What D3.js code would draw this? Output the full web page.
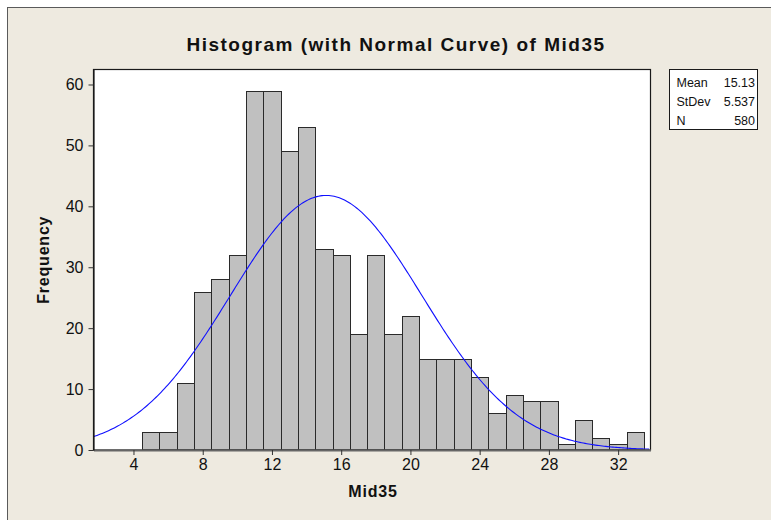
<!DOCTYPE html>
<html>
<head>
<meta charset="utf-8">
<script src="https://cdn.jsdelivr.net/npm/d3@7"></script>
<style>
  html, body { margin: 0; padding: 0; background: #ffffff; }
  svg { display: block; }
  text { font-family: "Liberation Sans", Arial, sans-serif; fill: #111; }
</style>
</head>
<body>
<svg id="chart" width="771" height="520"></svg>
<script>
// ---- data ----
const binCenters = [5, 6, 7, 8, 9, 10, 11, 12, 13, 14, 15, 16, 17, 18, 19, 20, 21, 22, 23, 24, 25, 26, 27, 28, 29, 30, 31, 32, 33];
const counts     = [3, 3, 11, 26, 28, 32, 59, 59, 49, 53, 33, 32, 19, 32, 19, 22, 15, 15, 15, 12, 6, 9, 8, 8, 1, 5, 2, 1, 3];
const xTickValues = [4, 8, 12, 16, 20, 24, 28, 32];
const yTickValues = [0, 10, 20, 30, 40, 50, 60];
const statLabels = ["Mean", "StDev", "N"];
const statValues = ["15.13", "5.537", "580"];
const meanValue = 15.13, sdValue = 5.537, nValue = 580, binWidth = 1;
const titleText = "Histogram (with Normal Curve) of Mid35";
const xLabel = "Mid35", yLabel = "Frequency";

// ---- layout ----
const W = 771, H = 520;
const plot = { left: 93.5, right: 650.5, top: 69.5, bottom: 450 };
const svg = d3.select("#chart");

// outer frame
svg.append("rect").attr("x", 7.5).attr("y", 7.5).attr("width", W).attr("height", H)
  .attr("fill", "#EEEAE0").attr("stroke", "#5a5a5a").attr("stroke-width", 1);

const x = d3.scaleLinear().domain([1.69, 33.87]).range([plot.left, plot.right]);
const y = d3.scaleLinear().domain([0, 62.46]).range([plot.bottom, plot.top]);

// plot background
svg.append("rect").attr("x", plot.left).attr("y", plot.top)
  .attr("width", plot.right - plot.left).attr("height", plot.bottom - plot.top)
  .attr("fill", "#ffffff");

svg.append("clipPath").attr("id", "pclip").append("rect")
  .attr("x", plot.left).attr("y", plot.top)
  .attr("width", plot.right - plot.left).attr("height", plot.bottom - plot.top);

// bars
svg.append("g").selectAll("rect").data(binCenters).join("rect")
  .attr("x", (d) => Math.round(x(d - binWidth / 2)) + 0.5)
  .attr("width", (d) => Math.round(x(d + binWidth / 2)) - Math.round(x(d - binWidth / 2)))
  .attr("y", (d, i) => Math.round(y(counts[i])) + 0.5)
  .attr("height", (d, i) => plot.bottom - Math.round(y(counts[i])) - 0.5)
  .attr("fill", "#C0C0C0").attr("stroke", "#2a2a2a").attr("stroke-width", 1);

// normal curve from the fitted mean / stdev / N
const scaleFactor = nValue * binWidth / (sdValue * Math.sqrt(2 * Math.PI));
const xs = d3.range(x.domain()[0], x.domain()[1] + 0.001, 0.1);
const line = d3.line()
  .x((d) => x(d))
  .y((d) => y(scaleFactor * Math.exp(-0.5 * Math.pow((d - meanValue) / sdValue, 2))));
svg.append("path").datum(xs).attr("d", line)
  .attr("clip-path", "url(#pclip)")
  .attr("fill", "none").attr("stroke", "#1010FF").attr("stroke-width", 1.1);

// plot border
svg.append("rect").attr("x", plot.left).attr("y", plot.top)
  .attr("width", plot.right - plot.left).attr("height", plot.bottom - plot.top)
  .attr("fill", "none").attr("stroke", "#1a1a1a").attr("stroke-width", 1.2);

// axes
const xAxis = d3.axisBottom(x).tickValues(xTickValues).tickSizeInner(5).tickSizeOuter(0).tickPadding(4);
const gx = svg.append("g").attr("transform", `translate(0,${plot.bottom})`).call(xAxis);
gx.select(".domain").attr("stroke", "#666").attr("stroke-width", 2);
gx.selectAll(".tick line").attr("stroke", "#333");
gx.selectAll(".tick text").style("font-size", "16px").style("font-family", "'Liberation Sans', Arial, sans-serif").attr("fill", "#111");

const yAxis = d3.axisLeft(y).tickValues(yTickValues).tickSizeInner(5).tickSizeOuter(0).tickPadding(5);
const gy = svg.append("g").attr("transform", `translate(${plot.left},0)`).call(yAxis);
gy.select(".domain").attr("stroke", "#1a1a1a").attr("stroke-width", 1.2);
gy.selectAll(".tick line").attr("stroke", "#333");
gy.selectAll(".tick text").style("font-size", "16px").style("font-family", "'Liberation Sans', Arial, sans-serif").attr("fill", "#111");

// title
svg.append("text").attr("x", 396).attr("y", 51).attr("text-anchor", "middle")
  .style("font-size", "19px").style("font-weight", "bold").style("letter-spacing", "1.5px")
  .text(titleText);

// axis labels
svg.append("text").attr("x", (plot.left + plot.right) / 2 + 1).attr("y", 497).attr("text-anchor", "middle")
  .style("font-size", "16px").style("font-weight", "bold").style("letter-spacing", "0.8px").text(xLabel);
svg.append("text").attr("transform", `translate(49,${(plot.top + plot.bottom) / 2}) rotate(-90)`)
  .attr("text-anchor", "middle")
  .style("font-size", "16px").style("font-weight", "bold").style("letter-spacing", "0.8px").text(yLabel);

// stats box
const box = { x: 669.5, y: 69.5, w: 88, h: 60 };
svg.append("rect").attr("x", box.x).attr("y", box.y).attr("width", box.w).attr("height", box.h)
  .attr("fill", "#ffffff").attr("stroke", "#1a1a1a").attr("stroke-width", 1);
const rows = svg.append("g").selectAll("g").data(statLabels).join("g");
rows.append("text").attr("x", box.x + 7).attr("y", (d, i) => 86.5 + i * 19.3)
  .style("font-size", "12.5px").text((d) => d);
rows.append("text").attr("x", box.x + box.w - 2.5).attr("y", (d, i) => 86.5 + i * 19.3)
  .attr("text-anchor", "end").style("font-size", "12.5px").text((d, i) => statValues[i]);
</script>
</body>
</html>
